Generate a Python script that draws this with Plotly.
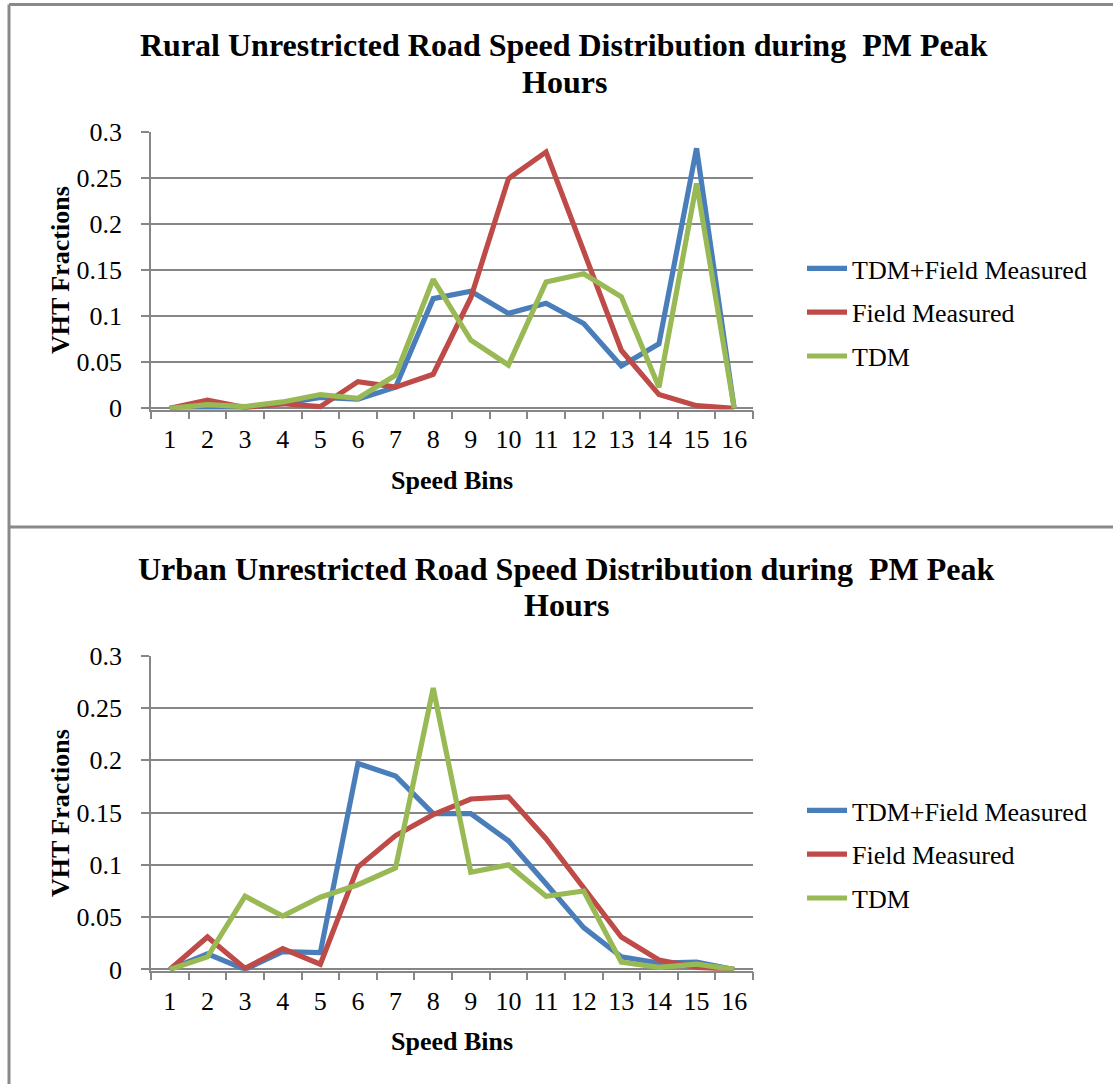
import plotly.graph_objects as go

# Speed bins shared by both panels
bins = [str(i) for i in range(1, 17)]

# Rural unrestricted road, PM peak: VHT fractions per speed bin
rural_tdm_field = [0.0, 0.001, 0.001, 0.005, 0.012, 0.010, 0.023, 0.119,
                   0.127, 0.103, 0.114, 0.092, 0.046, 0.070, 0.282, 0.0]
rural_field = [0.0, 0.009, 0.001, 0.005, 0.002, 0.029, 0.023, 0.037,
               0.120, 0.249, 0.278, 0.172, 0.063, 0.015, 0.003, 0.0]
rural_tdm = [0.0, 0.004, 0.002, 0.007, 0.015, 0.011, 0.036, 0.140,
             0.074, 0.047, 0.137, 0.146, 0.121, 0.023, 0.244, 0.0]

# Urban unrestricted road, PM peak
urban_tdm_field = [0.0, 0.015, 0.0, 0.017, 0.016, 0.197, 0.185, 0.149,
                   0.149, 0.123, 0.082, 0.040, 0.012, 0.006, 0.007, 0.0]
urban_field = [0.0, 0.031, 0.001, 0.020, 0.005, 0.098, 0.128, 0.148,
               0.163, 0.165, 0.125, 0.079, 0.031, 0.009, 0.002, 0.0]
urban_tdm = [0.0, 0.012, 0.070, 0.051, 0.069, 0.081, 0.097, 0.269,
             0.093, 0.100, 0.070, 0.075, 0.007, 0.002, 0.005, 0.0]

series_names = ["TDM+Field Measured", "Field Measured", "TDM"]
colors = ["#4A7EBB", "#BE4B48", "#98B954"]

W, H = 1113, 1084
SERIF = "Liberation Serif, Times New Roman, serif"
GRID = "#868686"


def px_x(x):
    return x / W


def px_y(y):
    return 1 - y / H


fig = go.Figure()

panels = [
    ("x", "y", "legend", [rural_tdm_field, rural_field, rural_tdm]),
    ("x2", "y2", "legend2", [urban_tdm_field, urban_field, urban_tdm]),
]
for xa, ya, lg, data in panels:
    for name, vals, col in zip(series_names, data, colors):
        fig.add_trace(go.Scatter(
            x=bins, y=vals, name=name, mode="lines",
            line=dict(color=col, width=5.2),
            xaxis=xa, yaxis=ya, legend=lg, legendgroup=lg + name,
        ))

x_dom = [px_x(151), px_x(753)]
top_dom = [px_y(409.5), px_y(131.7)]
bot_dom = [px_y(970.7), px_y(655.7)]

xaxis_style = dict(
    type="category", range=[-0.5, 15.5], tickson="boundaries",
    ticks="outside", ticklen=8, tickwidth=1.5, tickcolor=GRID,
    showline=True, linecolor=GRID, linewidth=1.5, showgrid=False,
    tickfont=dict(family=SERIF, size=26, color="black"),
    ticklabelstandoff=6, automargin=False, fixedrange=True,
)
yaxis_style = dict(
    range=[-0.0012, 0.3], tickvals=[0, 0.05, 0.1, 0.15, 0.2, 0.25, 0.3],
    ticktext=["0", "0.05", "0.1", "0.15", "0.2", "0.25", "0.3"],
    ticks="outside", ticklen=8, tickwidth=1.5, tickcolor=GRID,
    showline=True, linecolor=GRID, linewidth=1.5,
    showgrid=True, gridcolor=GRID, gridwidth=1.6,
    zeroline=True, zerolinecolor=GRID, zerolinewidth=1.5,
    tickfont=dict(family=SERIF, size=26, color="black"),
    ticklabelstandoff=14, automargin=False, fixedrange=True,
)

legend_style = dict(
    font=dict(family=SERIF, size=26, color="black"),
    xanchor="left", yanchor="top", bgcolor="rgba(0,0,0,0)",
    tracegroupgap=7, itemwidth=40,
)

fig.update_layout(
    width=W, height=H, autosize=False,
    margin=dict(l=0, r=0, t=0, b=0, pad=0, autoexpand=False),
    paper_bgcolor="white", plot_bgcolor="white",
    xaxis=dict(domain=x_dom, anchor="y", **xaxis_style),
    yaxis=dict(domain=top_dom, anchor="x", **yaxis_style),
    xaxis2=dict(domain=x_dom, anchor="y2", **xaxis_style),
    yaxis2=dict(domain=bot_dom, anchor="x2", **yaxis_style),
    legend=dict(x=px_x(802), y=px_y(245), **legend_style),
    legend2=dict(x=px_x(802), y=px_y(787), **legend_style),
    showlegend=True,
)

# Panel frames
frame = dict(type="line", xref="paper", yref="paper",
             line=dict(color="#8a8a8a", width=3), layer="above")
fig.add_shape(x0=px_x(9), x1=1, y0=px_y(4.5), y1=px_y(4.5), **frame)
fig.add_shape(x0=px_x(9), x1=px_x(9), y0=0, y1=px_y(4.5), **frame)
fig.add_shape(x0=px_x(9), x1=1, y0=px_y(527), y1=px_y(527), **frame)

title_font = dict(family=SERIF, size=32, color="black")
label_font = dict(family=SERIF, size=26, color="black")


def text(x, y, s, font, angle=0):
    fig.add_annotation(x=px_x(x), y=px_y(y), xref="paper", yref="paper",
                       text=s, showarrow=False, font=font, textangle=angle,
                       xanchor="center", yanchor="middle")


# Titles
text(564, 45, "<b>Rural Unrestricted Road Speed Distribution during\u00a0 PM Peak</b>", title_font)
text(564, 82, "<b>Hours</b>", title_font)
text(566, 569, "<b>Urban Unrestricted Road Speed Distribution during\u00a0 PM Peak</b>", title_font)
text(566, 605, "<b>Hours</b>", title_font)

# Axis titles
text(60, 270, "<b>VHT Fractions</b>", label_font, angle=-90)
text(452, 480, "<b>Speed Bins</b>", label_font)
text(60, 813, "<b>VHT Fractions</b>", label_font, angle=-90)
text(452, 1041, "<b>Speed Bins</b>", label_font)

fig.write_html("out.html")
